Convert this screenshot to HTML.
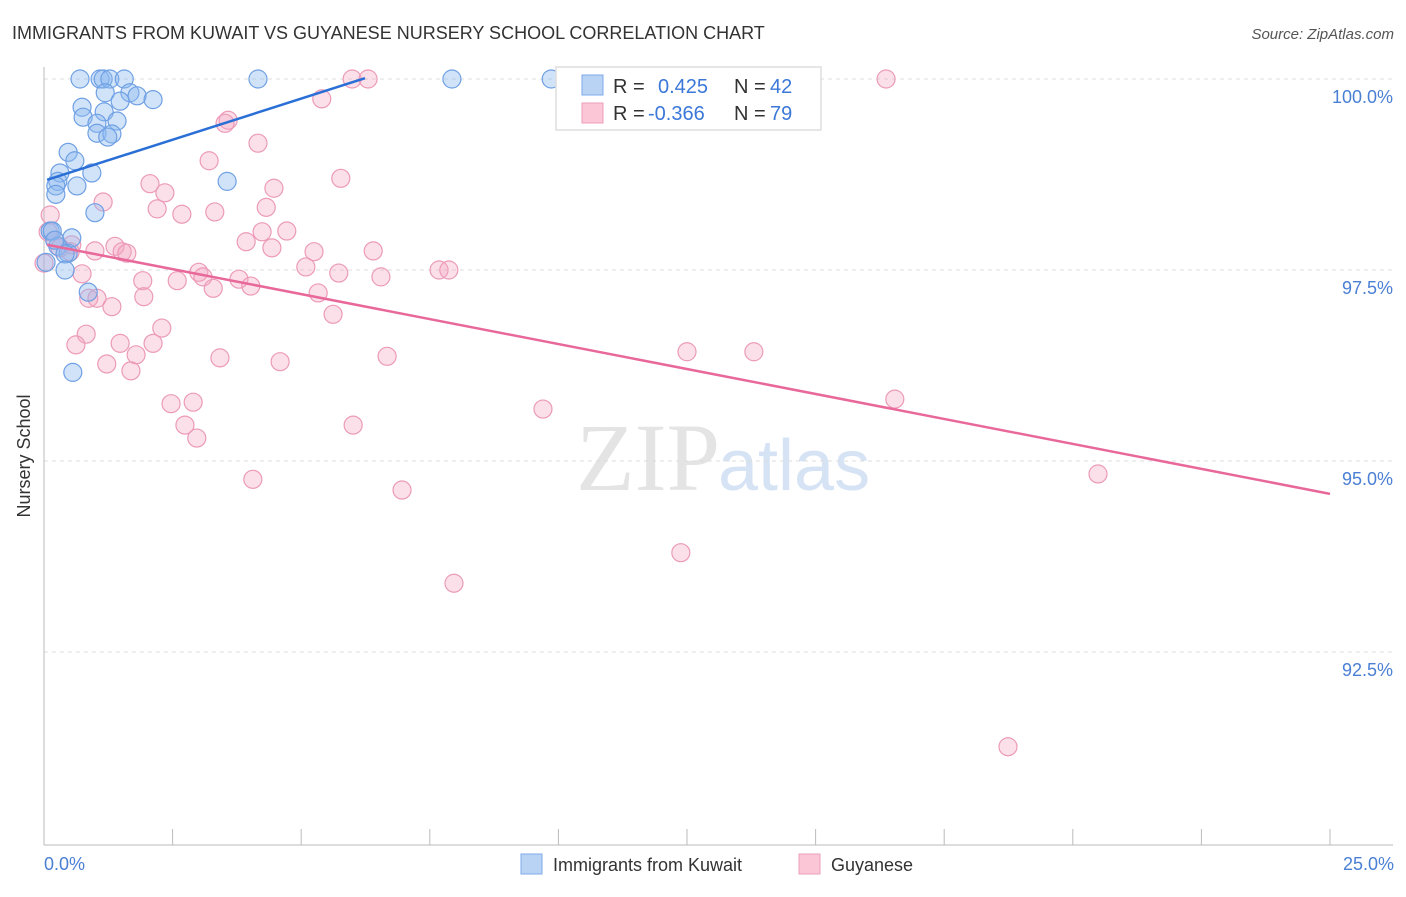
<!DOCTYPE html>
<html><head><meta charset="utf-8">
<style>
body{margin:0;background:#fff;font-family:"Liberation Sans",sans-serif;}
svg text{font-family:"Liberation Sans",sans-serif;}
</style></head>
<body>
<svg id="chart" width="1406" height="892" viewBox="0 0 1406 892" xmlns="http://www.w3.org/2000/svg">
<text x="12" y="39" font-size="18" fill="#333">IMMIGRANTS FROM KUWAIT VS GUYANESE NURSERY SCHOOL CORRELATION CHART</text>
<text x="1394" y="39" font-size="15" fill="#555" text-anchor="end" font-style="italic">Source: ZipAtlas.com</text>
<text x="720" y="490" font-size="96" fill="#e4e4e4" text-anchor="end" font-family="Liberation Serif" style="font-family:'Liberation Serif',serif">ZIP</text>
<text x="718" y="490" font-size="72" fill="#d6e3f5">atlas</text>
<g id="grid"></g>
<g id="axes"></g>
<g id="pts"></g>
<g id="lines"></g>
<text x="30" y="456" font-size="18" fill="#333" text-anchor="middle" transform="rotate(-90 30 456)">Nursery School</text>
<text x="44" y="870" font-size="18" fill="#4a7fd4">0.0%</text>
<text x="1394" y="870" font-size="18" fill="#4a7fd4" text-anchor="end">25.0%</text>
<g>
<rect x="556" y="67" width="265" height="63" fill="#fff" stroke="#ddd" stroke-width="1.5"/>
<rect x="582" y="75" width="21" height="20" fill="#b9d3f5" stroke="#7eaaea"/>
<rect x="582" y="103" width="21" height="20" fill="#fbc7d7" stroke="#ee9dbb"/>
<text x="613" y="93" font-size="20" fill="#333">R = </text><text x="658" y="93" font-size="20" fill="#3b78d8">0.425</text>
<text x="734" y="93" font-size="20" fill="#333">N = </text><text x="770" y="93" font-size="20" fill="#3b78d8">42</text>
<text x="613" y="120" font-size="20" fill="#333">R = </text><text x="648" y="120" font-size="20" fill="#3b78d8">-0.366</text>
<text x="734" y="120" font-size="20" fill="#333">N = </text><text x="770" y="120" font-size="20" fill="#3b78d8">79</text>
</g>
<g>
<rect x="521" y="854" width="21" height="20" fill="#b9d3f5" stroke="#7eaaea"/>
<text x="553" y="871" font-size="18" fill="#333">Immigrants from Kuwait</text>
<rect x="799" y="854" width="21" height="20" fill="#fbc7d7" stroke="#ee9dbb"/>
<text x="831" y="871" font-size="18" fill="#333">Guyanese</text>
</g>
</svg>
<script>
const yTicks=[100,97.5,95,92.5];
const yTickLabels=["100.0%","97.5%","95.0%","92.5%"];
const xTicks=[0,2.5,5,7.5,10,12.5,15,17.5,20,22.5,25];
const kuwaitX=[0.70,1.09,1.15,1.28,1.56,4.16,7.93,9.86,1.19,1.67,1.81,0.74,1.48,2.12,1.17,0.76,1.03,1.42,1.03,1.32,1.24,0.47,0.60,0.31,0.93,0.27,0.23,0.64,0.23,3.56,0.99,0.12,0.16,0.54,0.27,0.47,0.41,0.41,0.86,0.56,0.04,0.21];
const kuwaitY=[100,100,100,100,100,100,100,100,99.82,99.82,99.78,99.63,99.71,99.73,99.57,99.50,99.42,99.45,99.29,99.28,99.24,99.04,98.93,98.77,98.77,98.66,98.60,98.60,98.49,98.66,98.25,98.01,98.01,97.92,97.81,97.72,97.71,97.50,97.21,96.16,97.60,97.89];
const guyX=[0.12,0.08,0.21,0.31,0.54,0.51,0.99,1.38,1.52,1.61,0.74,1.15,2.06,2.35,2.20,2.68,3.32,3.21,3.58,3.52,4.16,4.47,4.32,4.24,4.72,3.93,4.43,5.25,5.09,5.77,5.73,6.40,6.55,5.40,5.99,6.30,16.37,1.92,2.59,3.01,3.09,3.29,3.79,4.02,5.33,5.62,0.87,1.03,1.94,1.32,2.29,0.82,0.62,1.48,2.12,1.79,1.22,1.69,3.42,4.59,6.67,7.68,7.87,2.47,2.90,2.74,2.97,4.06,6.01,6.96,9.70,12.50,13.80,16.54,20.49,12.38,7.97,18.74,0.00];
const guyY=[98.22,98.00,97.89,97.79,97.83,97.74,97.75,97.81,97.74,97.72,97.45,98.39,98.63,98.51,98.30,98.23,98.26,98.93,99.46,99.42,99.16,98.57,98.32,98.00,98.01,97.87,97.79,97.74,97.54,98.70,97.46,97.75,97.41,99.74,100,100,100,97.36,97.36,97.47,97.41,97.26,97.38,97.29,97.20,96.92,97.13,97.13,97.15,97.02,96.74,96.66,96.52,96.54,96.54,96.39,96.27,96.18,96.35,96.30,96.37,97.50,97.50,95.75,95.77,95.47,95.30,94.76,95.47,94.62,95.68,96.43,96.43,95.81,94.83,93.80,93.40,91.26,97.59];
const kuwaitTrend=[[0.06,98.68],[6.24,100.01]];
const guyTrend=[[0.06,97.83],[25,94.57]];

const NS="http://www.w3.org/2000/svg";
const X0=44,X1=1330,Y100=79,PXPER=76.4;
function sx(v){return X0+(v/25)*(X1-X0);}
function sy(v){return Y100+(100-v)*PXPER;}
function mk(tag,attrs,parent){const e=document.createElementNS(NS,tag);for(const k in attrs)e.setAttribute(k,attrs[k]);parent.appendChild(e);return e;}
const grid=document.getElementById('grid'),axes=document.getElementById('axes'),pts=document.getElementById('pts'),lines=document.getElementById('lines');
yTicks.forEach((t,i)=>{
  const l=mk('line',{x1:X0,x2:1393,y1:sy(t),y2:sy(t),stroke:'#dcdcdc','stroke-dasharray':'4,4'},grid);
  
  
  const tx=mk('text',{x:1393,y:sy(t)+24,'font-size':18,fill:'#4a7fd4','text-anchor':'end'},grid);
  tx.textContent=yTickLabels[i];
  
  
});
const ya=mk('line',{x1:X0,x2:X0,y1:67,y2:845,stroke:'#bbb'},axes);


const xa=mk('line',{x1:X0,x2:1393,y1:845,y2:845,stroke:'#bbb'},axes);


xTicks.forEach(t=>{
  const l=mk('line',{x1:sx(t),x2:sx(t),y1:829,y2:845,stroke:'#bbb'},axes);
  
  
});
guyX.forEach((v,i)=>{
  const c=mk('circle',{cx:sx(v),cy:sy(guyY[i]),r:9,fill:'rgba(244,165,192,0.35)',stroke:'#ec9ab8','stroke-width':1.2},pts);
  
  
});
kuwaitX.forEach((v,i)=>{
  const c=mk('circle',{cx:sx(v),cy:sy(kuwaitY[i]),r:9,fill:'rgba(140,185,240,0.4)',stroke:'#6fa0e4','stroke-width':1.2},pts);
  
  
});
const bl=mk('line',{x1:sx(kuwaitTrend[0][0]),y1:sy(kuwaitTrend[0][1]),x2:sx(kuwaitTrend[1][0]),y2:sy(kuwaitTrend[1][1]),stroke:'#2a6fd6','stroke-width':2.5},lines);


const pl=mk('line',{x1:sx(guyTrend[0][0]),y1:sy(guyTrend[0][1]),x2:sx(guyTrend[1][0]),y2:sy(guyTrend[1][1]),stroke:'#e8689a','stroke-width':2.5},lines);


</script>
</body></html>
